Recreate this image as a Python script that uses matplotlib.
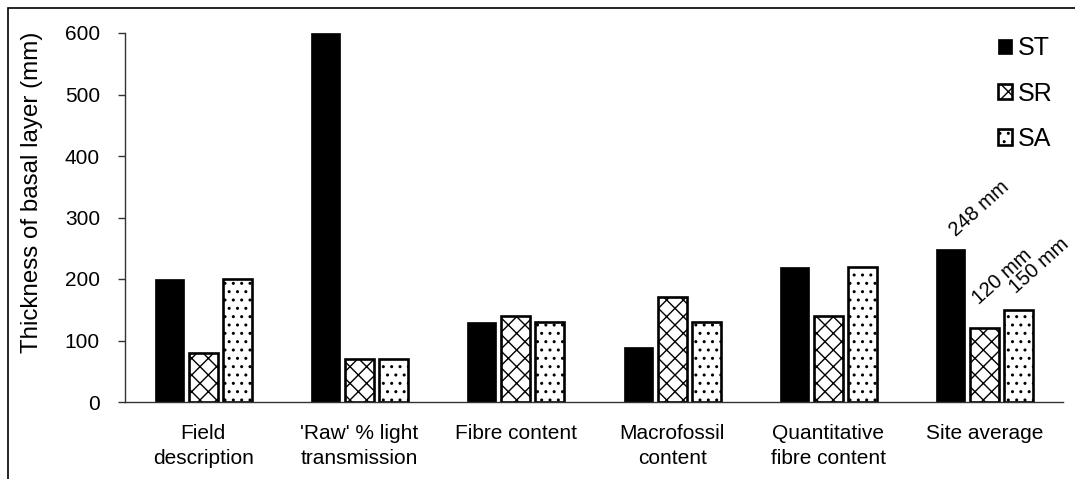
import matplotlib
matplotlib.use("Agg")
import matplotlib.pyplot as plt
from matplotlib.patches import Rectangle
import numpy as np

categories = ["Field\ndescription", "'Raw' % light\ntransmission", "Fibre content",
              "Macrofossil\ncontent", "Quantitative\nfibre content", "Site average"]
series_names = ["ST", "SR", "SA"]
st_values = [200, 600, 130, 90, 220, 248]
sr_values = [80, 70, 140, 170, 140, 120]
sa_values = [200, 70, 130, 130, 220, 150]
site_avg_labels = ["248 mm", "120 mm", "150 mm"]
y_ticks = [0, 100, 200, 300, 400, 500, 600]

plt.rcParams['font.family'] = ['Liberation Sans', 'DejaVu Sans']
plt.rcParams['hatch.linewidth'] = 1.0
plt.rcParams['hatch.color'] = 'black'

W, H = 1075, 479
fig = plt.figure(figsize=(W / 100, H / 100), dpi=100)
ax = fig.add_axes([125 / W, 1 - 402 / H, (1063 - 125) / W, (402 - 33) / H])

x = np.arange(len(categories))
bw = 0.185
off = 0.218
ax.bar(x - off, st_values, bw, color='black', edgecolor='black', linewidth=0.5, label=series_names[0])
ax.bar(x, sr_values, bw, color='white', edgecolor='black', linewidth=1.9, hatch='xx', label=series_names[1])
ax.bar(x + off, sa_values, bw, color='white', edgecolor='black', linewidth=1.9, hatch='..', label=series_names[2])

ax.set_xlim(-0.5, len(categories) - 0.5)
ax.set_ylim(0, 600)
ax.set_yticks(y_ticks)
ax.set_xticks(x)
ax.set_xticklabels(categories, fontsize=15, linespacing=1.4)
ax.tick_params(axis='x', length=0, pad=16)
ax.tick_params(axis='y', length=5, width=1, direction='out', labelsize=15, pad=13, color='#333333')
for s in ['top', 'right']:
    ax.spines[s].set_visible(False)
for s in ['left', 'bottom']:
    ax.spines[s].set_color('#333333')
    ax.spines[s].set_linewidth(1.0)

# annotations for site average
last = len(categories) - 1
vals_last = [st_values[last], sr_values[last], sa_values[last]]
xs_last = [last - off, last, last + off]
text_offsets = [(0.18, 66), (0.11, 84), (0.13, 72)]
for lbl, xv, yv, (dx, dy) in zip(site_avg_labels, xs_last, vals_last, text_offsets):
    ax.text(xv + dx, yv + dy, lbl, rotation=42, ha='center', va='center', fontsize=14.5)

fig.text(32 / W, 1 - 192 / H, "Thickness of basal layer (mm)", rotation=90,
         ha='center', va='center', fontsize=17.4)

leg = ax.legend(loc='upper right', bbox_to_anchor=(1.0, 1.018), frameon=False, fontsize=18,
                handlelength=0.55, handleheight=0.55, handletextpad=0.25, labelspacing=0.85,
                borderaxespad=0.0)

# outer chart border
fig.patches.append(Rectangle((8 / W, -0.1), 1.2, 1 - 8 / H + 0.1, transform=fig.transFigure,
                             fill=False, edgecolor='black', linewidth=1.2))

fig.savefig("out.png", dpi=100)
